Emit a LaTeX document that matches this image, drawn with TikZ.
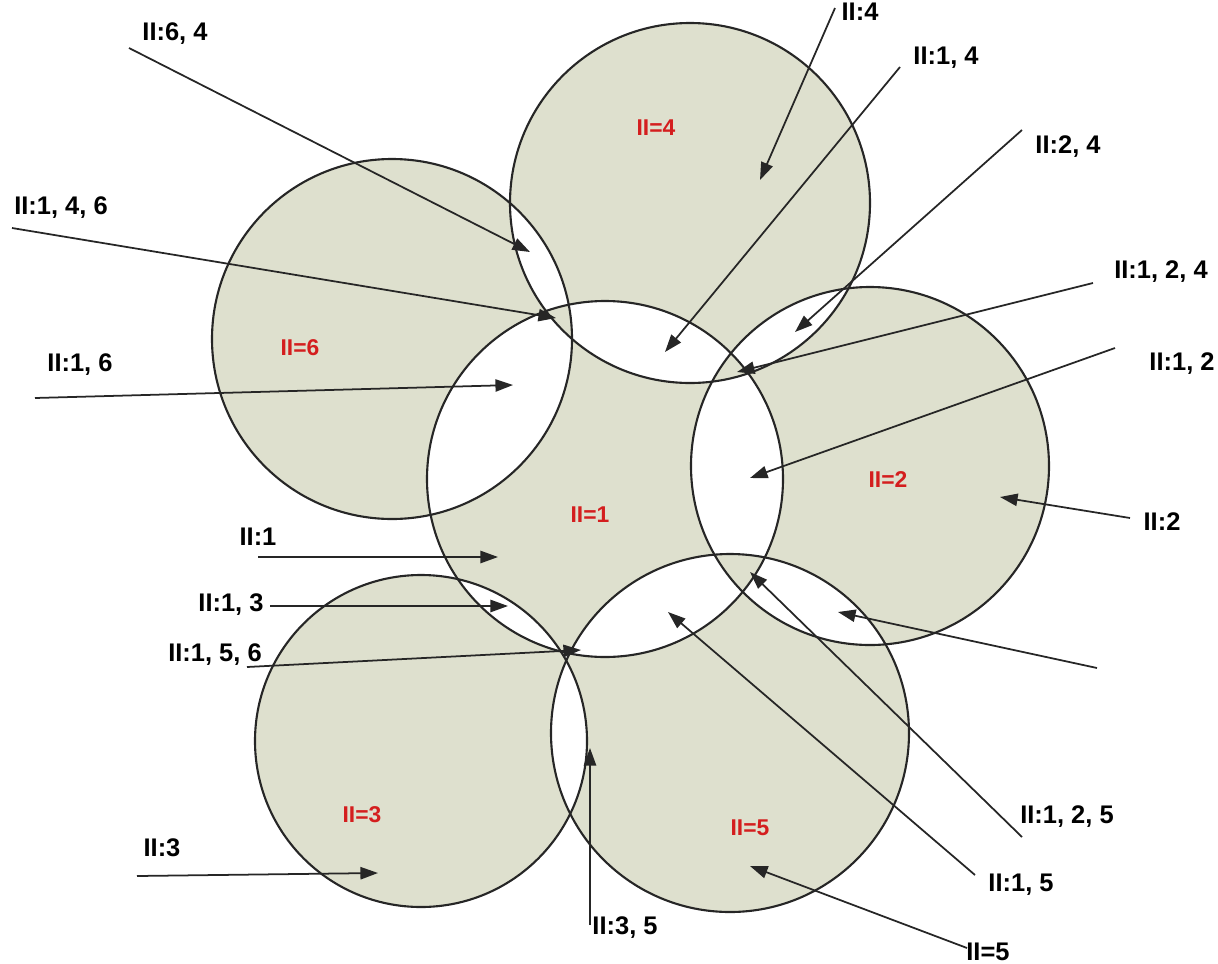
\documentclass[tikz,border=0pt]{standalone}
\usepackage{fontspec}
\setmainfont{Liberation Sans}
\usetikzlibrary{arrows.meta}
\definecolor{zonegrey}{RGB}{222,224,206}
\definecolor{zonered}{RGB}{212,30,30}

\begin{document}
\begin{tikzpicture}[x=0.02cm,y=-0.02cm,
    ring/.style={draw=black!85, line width=1.2pt},
    pointer/.style={draw=black!85, line width=1pt, -{Triangle[length=10pt,width=7pt]}},
    tag/.style={font=\bfseries\fontsize{14.5}{16}\selectfont, inner sep=0pt},
    zone/.style={font=\bfseries\fontsize{13}{15}\selectfont, text=zonered, inner sep=0pt}]
  \useasboundingbox (0,0) rectangle (1218,964);
  % discs: overlaps of two stay white
  \fill[zonegrey, even odd rule]
    (605,479) circle (178) (690,203) circle (180) (392,339) circle (180)
    (870,466) circle (179) (421,741) circle (166) (730,733) circle (179);
  \foreach \x/\y/\r in {605/479/178, 690/203/180, 392/339/180, 870/466/179, 421/741/166, 730/733/179}{
    \draw[ring] (\x,\y) circle (\r);
  }
  % zone names
  \node[zone] (z1) at (590,515) {II=1};
  \node[zone] (z2) at (888,480) {II=2};
  \node[zone] (z3) at (362,815) {II=3};
  \node[zone] (z4) at (656,128) {II=4};
  \node[zone] (z5) at (750,828) {II=5};
  \node[zone] (z6) at (300,348) {II=6};
  % pointer labels
  \node[tag] (t64) at (175,34) {II:6, 4};
  \node[tag] (t146) at (61,208) {II:1, 4, 6};
  \node[tag] (t16) at (80,365) {II:1, 6};
  \node[tag] (t4) at (860,12) {II:4};
  \node[tag] (t14) at (946,58) {II:1, 4};
  \node[tag] (t24) at (1068,147) {II:2, 4};
  \node[tag] (t124) at (1161,272) {II:1, 2, 4};
  \node[tag] (t12) at (1182,364) {II:1, 2};
  \node[tag] (t2) at (1162,522) {II:2};
  \node[tag] (t125) at (1067,817) {II:1, 2, 5};
  \node[tag] (t15) at (1021,885) {II:1, 5};
  \node[tag] (tz5) at (988,952) {II=5};
  \node[tag] (t1) at (258,537) {II:1};
  \node[tag] (t13) at (231,605) {II:1, 3};
  \node[tag] (t156) at (215,655) {II:1, 5, 6};
  \node[tag] (t3) at (162,848) {II:3};
  \node[tag] (t35) at (625,928) {II:3, 5};
  % pointer tails and tips
  \foreach \n/\a/\b/\c/\d in {64/129/48/530/252, 146/12/228/556/318, 16/35/398/513/385,
      4/835/8/760/180, 14/900/67/665/352, 24/1022/130/795/332, 124/1093/283/737/372,
      12/1115/348/750/478, 2/1130/518/1000/497, 25/1097/668/838/612, 125/1022/837/750/572,
      15/975/875/668/612, z5/967/948/750/866, 1/258/557/498/557, 13/270/606/508/606,
      156/247/667/581/650, 3/137/876/378/873, 35/590/925/590/748}{
    \coordinate (a\n) at (\a,\b);
    \coordinate (b\n) at (\c,\d);
    \draw[pointer] (a\n) -- (b\n);
  }
\end{tikzpicture}
\end{document}
